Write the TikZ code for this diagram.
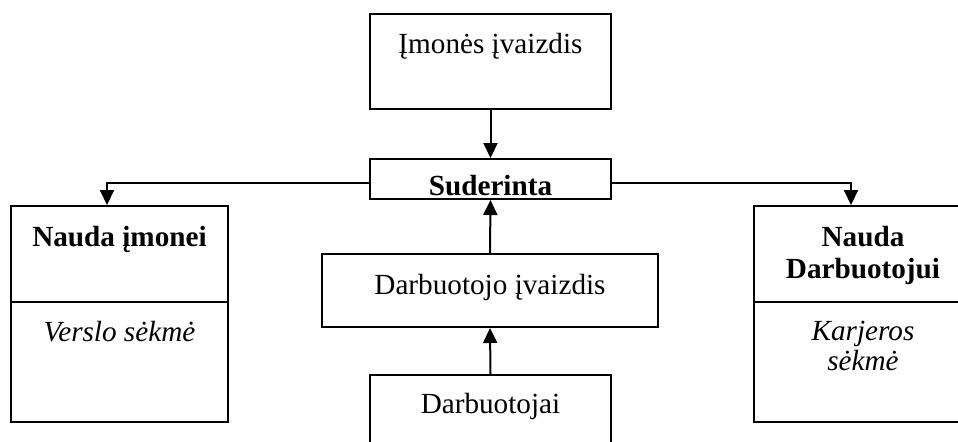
\documentclass[tikz,border=0pt]{standalone}
\usepackage{fontspec}
\setmainfont{Liberation Serif}
\usetikzlibrary{arrows.meta,calc}
\begin{document}
\begin{tikzpicture}[x=0.5pt,y=-0.5pt,
  box/.style={draw,line width=1pt,rectangle,inner sep=0pt},
  lbl/.style={anchor=base,inner sep=0pt,font=\fontsize{14.6}{16}\selectfont},
  bold/.style={lbl,font=\fontsize{14.6}{16}\selectfont\bfseries},
  ital/.style={lbl,font=\fontsize{14.6}{16}\selectfont\itshape},
  arr/.style={line width=1pt,-{Triangle[width=7pt,length=7.5pt]}}]
\clip (0,0) rectangle (958,441);

% boxes
\node[box,minimum width=120.5pt,minimum height=47.5pt] (top)  at (490.5,61.5) {};
\node[box,minimum width=120.5pt,minimum height=20pt]   (sud)  at (490.5,179) {};
\node[box,minimum width=168pt,minimum height=36.5pt]   (dimg) at (490,290.5) {};
\node[box,minimum width=120.5pt,minimum height=47.5pt] (dbt)  at (490.5,422.5) {};
\node[box,minimum width=108.5pt,minimum height=108pt]  (nl)   at (119.5,314) {};
\node[box,minimum width=109pt,minimum height=108pt]    (nr)   at (863,314) {};

% dividers of the two side boxes
\coordinate (div) at (0,302);
\draw[line width=1pt] (nl.west |- div) -- (nl.east |- div);
\draw[line width=1pt] (nr.west |- div) -- (nr.east |- div);

% texts
\node[lbl]  (t1) at (490.5,53)  {Įmonės įvaizdis};
\node[bold] (t2) at (490.5,195.5) {Suderinta};
\node[lbl]  (t3) at (490,294)   {Darbuotojo įvaizdis};
\node[lbl]  (t4) at (490.5,413) {Darbuotojai};
\node[bold] (t5) at (119.5,246) {Nauda įmonei};
\node[ital] (t6) at (119.5,341) {Verslo sėkmė};
\node[bold] (t7) at (863,246)   {Nauda};
\node[bold] (t8) at (863,278)   {Darbuotojui};
\node[ital] (t9) at (863,340)   {Karjeros};
\node[ital] (t10) at (863,370)  {sėkmė};

% connectors
\coordinate (lhook) at (107,0);
\coordinate (rhook) at (851,0);
\coordinate (hline) at (0,183);
\draw[arr] (top.south) -- (sud.north);
\draw[arr] (dimg.north) -- (sud.south);
\draw[arr] (dbt.north) -- (dimg.south);
\draw[arr] (sud.west |- hline) -| (lhook |- nl.north);
\draw[arr] (sud.east |- hline) -| (rhook |- nr.north);
\end{tikzpicture}
\end{document}
